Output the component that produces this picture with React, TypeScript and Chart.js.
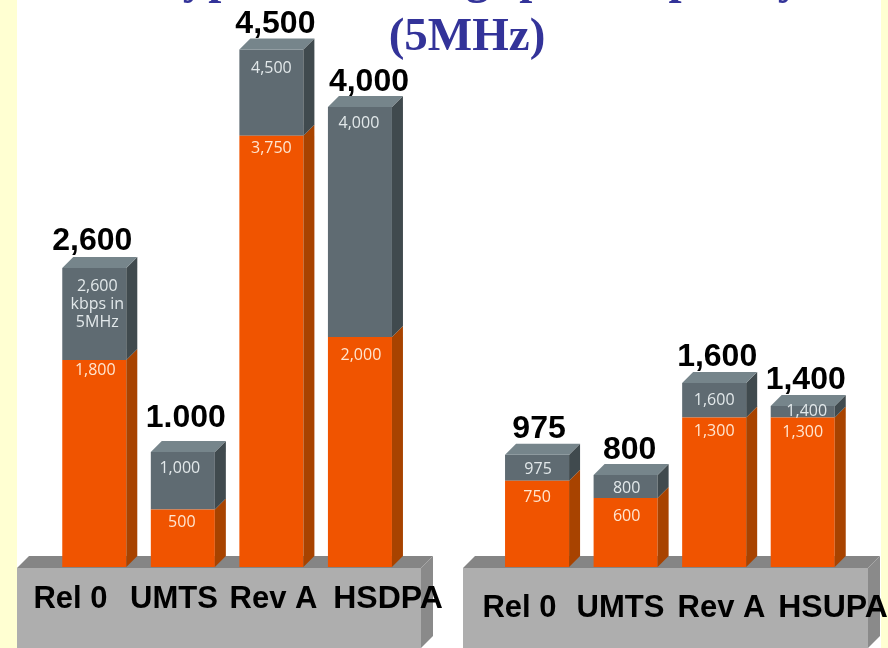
import React, { useEffect, useRef } from "react";
import { Chart, registerables } from "chart.js";

Chart.register(...registerables);

const categories = ["Rel 0", "UMTS", "Rev A", "HSDPA", "", "Rel 0", "UMTS", "Rev A", "HSUPA"];
const lowerValues = [1800, 500, 3750, 2000, null, 750, 600, 1300, 1300];
const totalValues = [2600, 1000, 4500, 4000, null, 975, 800, 1600, 1400];
const totalLabels = ["2,600", "1.000", "4,500", "4,000", "", "975", "800", "1,600", "1,400"];
const innerUpperLabels = ["2,600\nkbps in\n5MHz", "1,000", "4,500", "4,000", "", "975", "800", "1,600", "1,400"];
const innerLowerLabels = ["1,800", "500", "3,750", "2,000", "", "750", "600", "1,300", "1,300"];
const titleLines = ["Typical Throughput Capacity", "(5MHz)"];

const upperValues = totalValues.map((t, i) => (t == null ? null : t - (lowerValues[i] as number)));

// Layout tweaks (pixels relative to each bar)
const DX = 11;
const DY = 11;
const totalDx = [-2, 3, 4, 9, 0, 2, 4, 3, 3];
const totalDy = [18, 25, 16, 16, 0, 17, 16, 17, 17];
const upperDy = [18, 16, 19, 16, 0, 15, 13, 17, 5];
const lowerDy = [10, 13, 13, 18, 0, 17, 18, 14, 15];
const upperDx = [3, -3, 0, -1, 0, 1, 1, 0, 4];
const lowerDx = [1, -1, 0, 1, 0, 0, 1, 0, 0];
const catPos = [
  [70.5, 597], [174, 597], [273.5, 597], [388, 597], [0, 0],
  [519.5, 606], [620.5, 606], [721.5, 606], [833, 606],
];

const platforms = [
  [17, 421],
  [463, 868],
];

const poly = (ctx: CanvasRenderingContext2D, pts: number[][], fill: string) => {
  ctx.beginPath();
  pts.forEach(([x, y], i) => (i ? ctx.lineTo(x, y) : ctx.moveTo(x, y)));
  ctx.closePath();
  ctx.fillStyle = fill;
  ctx.fill();
};

const scenePlugin = {
  id: "scene",
  beforeDraw(chart: any) {
    const { ctx, width, height } = chart;
    ctx.save();
    ctx.fillStyle = "#FFFFD2";
    ctx.fillRect(0, 0, width, height);
    ctx.fillStyle = "#FFFFFF";
    ctx.fillRect(17, 0, 864, height);
    ctx.fillStyle = "#333399";
    ctx.font = 'bold 47px "Liberation Serif"';
    ctx.textAlign = "center";
    ctx.textBaseline = "alphabetic";
    ctx.letterSpacing = "2px";
    ctx.fillText(titleLines[0], 478, -7);
    ctx.letterSpacing = "0px";
    ctx.fillText(titleLines[1], 467, 50);
    const base = chart.scales.y.getPixelForValue(0);
    platforms.forEach(([l, r]) => {
      poly(ctx, [[l, base + 1], [l + 12, base - 11], [r + 12, base - 11], [r, base + 1]], "#858585");
      poly(ctx, [[r, base + 1], [r + 12, base - 11], [r + 12, 636], [r, 648]], "#8A8A8A");
      ctx.fillStyle = "#AEAEAE";
      ctx.fillRect(l, base + 1, r - l, height - base - 1);
    });
    ctx.restore();
  },
  afterDatasetsDraw(chart: any) {
    const { ctx } = chart;
    const yS = chart.scales.y;
    const lowerMeta = chart.getDatasetMeta(0).data;
    ctx.save();
    categories.forEach((_, i) => {
      if (totalValues[i] == null) return;
      const b = lowerMeta[i];
      const half = b.width / 2;
      const L = b.x - half;
      const R = b.x + half;
      const y0 = yS.getPixelForValue(0);
      const y1 = yS.getPixelForValue(lowerValues[i]);
      const y2 = yS.getPixelForValue(totalValues[i]);
      poly(ctx, [[R, y0], [R + DX, y0 - DY], [R + DX, y1 - DY], [R, y1]], "#A84300");
      poly(ctx, [[R, y1], [R + DX, y1 - DY], [R + DX, y2 - DY], [R, y2]], "#404A4E");
      poly(ctx, [[L, y2], [L + DX, y2 - DY], [R + DX, y2 - DY], [R, y2]], "#76858B");

      ctx.textAlign = "center";
      ctx.textBaseline = "middle";
      ctx.font = '16px "Open Sans"';
      ctx.fillStyle = "#E2E8EA";
      const up = innerUpperLabels[i].split("\n");
      up.forEach((t, k) => ctx.fillText(t, b.x + upperDx[i], y2 + upperDy[i] + k * 18));
      ctx.fillStyle = "#FFE6D0";
      ctx.fillText(innerLowerLabels[i], b.x + lowerDx[i], y1 + lowerDy[i]);

      ctx.textBaseline = "alphabetic";
      ctx.font = 'bold 32px "Liberation Sans"';
      ctx.fillStyle = "#000000";
      ctx.fillText(totalLabels[i], b.x + totalDx[i], y2 - totalDy[i]);
    });
    ctx.fillStyle = "#000000";
    ctx.textBaseline = "alphabetic";
    categories.forEach((c, i) => {
      if (!c) return;
      ctx.font = i === 3 || i === 8 ? 'bold 32px "Liberation Sans"' : 'bold 31px "Liberation Sans"';
      ctx.fillText(c, catPos[i][0], catPos[i][1] + 11);
    });
    ctx.restore();
  },
};

export default function App() {
  const ref = useRef<HTMLCanvasElement>(null);
  useEffect(() => {
    document.body.style.margin = "0";
    const chart = new Chart(ref.current as HTMLCanvasElement, {
      type: "bar",
      data: {
        labels: categories,
        datasets: [
          { label: "Lower", data: lowerValues as any, backgroundColor: "#F05400", stack: "s", borderWidth: 0 },
          { label: "Total", data: upperValues as any, backgroundColor: "#5F6B72", stack: "s", borderWidth: 0 },
        ],
      },
      options: {
        responsive: false,
        animation: false,
        devicePixelRatio: 1,
        layout: { padding: { left: 50, right: 41, top: 0, bottom: 81 } },
        barPercentage: 0.723,
        categoryPercentage: 1,
        plugins: { legend: { display: false }, title: { display: false }, tooltip: { enabled: false } },
        scales: {
          x: { display: false, stacked: true },
          y: { display: false, stacked: true, min: 0, max: 4930 },
        },
      } as any,
      plugins: [scenePlugin],
    });
    return () => chart.destroy();
  }, []);
  return <canvas ref={ref} width={888} height={648} style={{ display: "block" }} />;
}
